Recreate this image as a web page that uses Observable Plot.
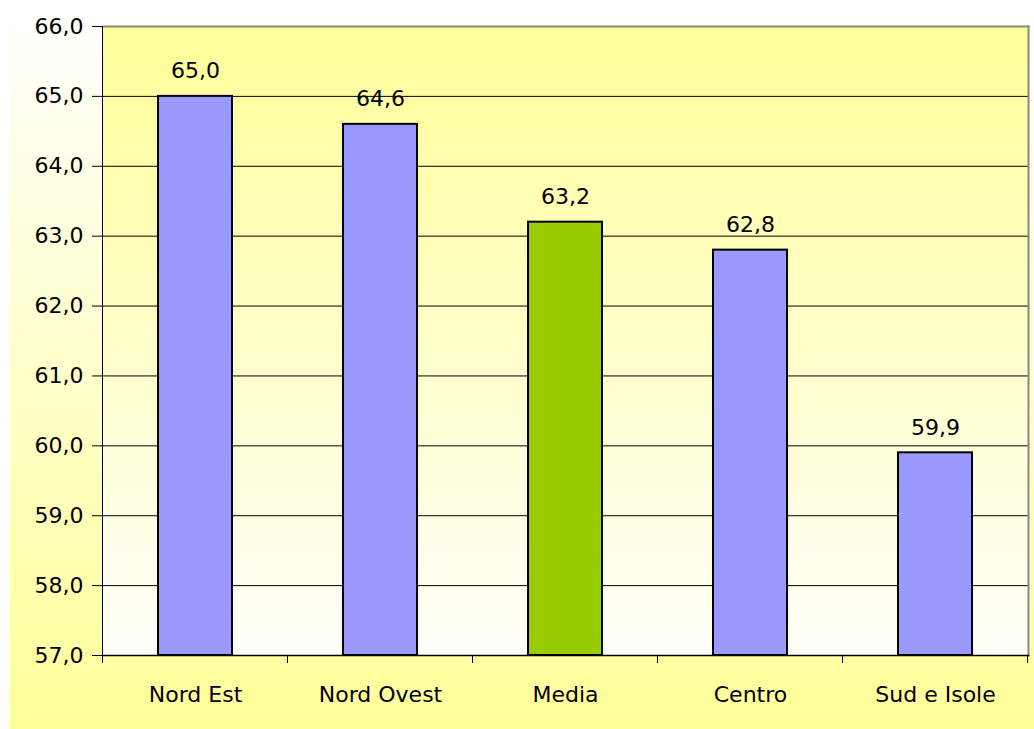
<!DOCTYPE html>
<html><head><meta charset="utf-8">
<script src="https://cdn.jsdelivr.net/npm/d3@7"></script>
<script src="https://cdn.jsdelivr.net/npm/@observablehq/plot@0.6"></script>
<style>body{margin:0;background:#fff} #chart svg{display:block}</style>
</head><body><div id="chart"></div>
<script>
const categories = ["Nord Est", "Nord Ovest", "Media", "Centro", "Sud e Isole"];
const values = [65.0, 64.6, 63.2, 62.8, 59.9];
const barColors = ["#9999FF", "#9999FF", "#99CC00", "#9999FF", "#9999FF"];
const yTicks = [57, 58, 59, 60, 61, 62, 63, 64, 65, 66];
const gridValues = [58, 59, 60, 61, 62, 63, 64, 65];
const yDomain = [57, 66];

const data = categories.map((c, i) => ({cat: c, value: values[i], color: barColors[i]}));
const fmt = v => v.toFixed(1).replace(".", ",");
const FONT = "'DejaVu Sans', Verdana, sans-serif";
const FS = 22;

// category boundary tick marks hanging below the x axis, positioned from the x scale
function bandBoundaryTicks(index, scales) {
  const x = scales.x, y = scales.y;
  const step = x(categories[1]) - x(categories[0]);
  const inner = 0.3 * step;
  const y0 = y(yDomain[0]);
  const xs = categories.map(c => x(c) - inner);
  xs.push(x(categories[categories.length - 1]) + step - inner);
  const g = d3.create("svg:g");
  for (const px of xs) {
    g.append("line").attr("x1", px).attr("x2", px).attr("y1", y0).attr("y2", y0 + 8)
      .attr("stroke", "#000").attr("stroke-width", 1);
  }
  return g.node();
}

const chart = Plot.plot({
  width: 1034,
  height: 729,
  marginLeft: 102,
  marginRight: 6,
  marginTop: 26,
  marginBottom: 74,
  style: {fontFamily: FONT, fontSize: FS + "px", color: "#000",
    background: "linear-gradient(to right, #ffffff 10px, transparent 10px), linear-gradient(#ffffff, #ffff99)"},
  x: {domain: categories, paddingInner: 0.6, paddingOuter: 0.3},
  y: {domain: yDomain},
  color: {type: "identity"},
  marks: [
    Plot.frame({fill: "url(#plotGrad)", stroke: "none"}),
    Plot.ruleY(gridValues, {stroke: "#000", strokeWidth: 1}),
    Plot.frame({anchor: "top", stroke: "#888", strokeWidth: 2}),
    Plot.frame({anchor: "right", stroke: "#888", strokeWidth: 2}),
    Plot.axisY(yTicks, {tickFormat: fmt, tickSize: 10, tickPadding: 9, fontSize: FS, label: null}),
    Plot.axisX({tickSize: 0, tickPadding: 31, fontSize: FS, label: null}),
    Plot.barY(data, {x: "cat", y1: yDomain[0], y2: "value", fill: "color", stroke: "#000", strokeWidth: 2}),
    Plot.frame({anchor: "left", stroke: "#000", strokeWidth: 1}),
    Plot.frame({anchor: "bottom", stroke: "#000", strokeWidth: 1.5}),
    bandBoundaryTicks,
    Plot.text(data, {x: "cat", y: "value", text: d => fmt(d.value), dy: -18, lineAnchor: "bottom", fontSize: FS})
  ]
});
chart.insertAdjacentHTML("afterbegin",
  `<defs><linearGradient id="plotGrad" x1="0" y1="0" x2="0" y2="1">
     <stop offset="0" stop-color="#ffff99"/><stop offset="1" stop-color="#fffffa"/>
   </linearGradient></defs>`);
document.getElementById("chart").appendChild(chart);
</script>
</body></html>
